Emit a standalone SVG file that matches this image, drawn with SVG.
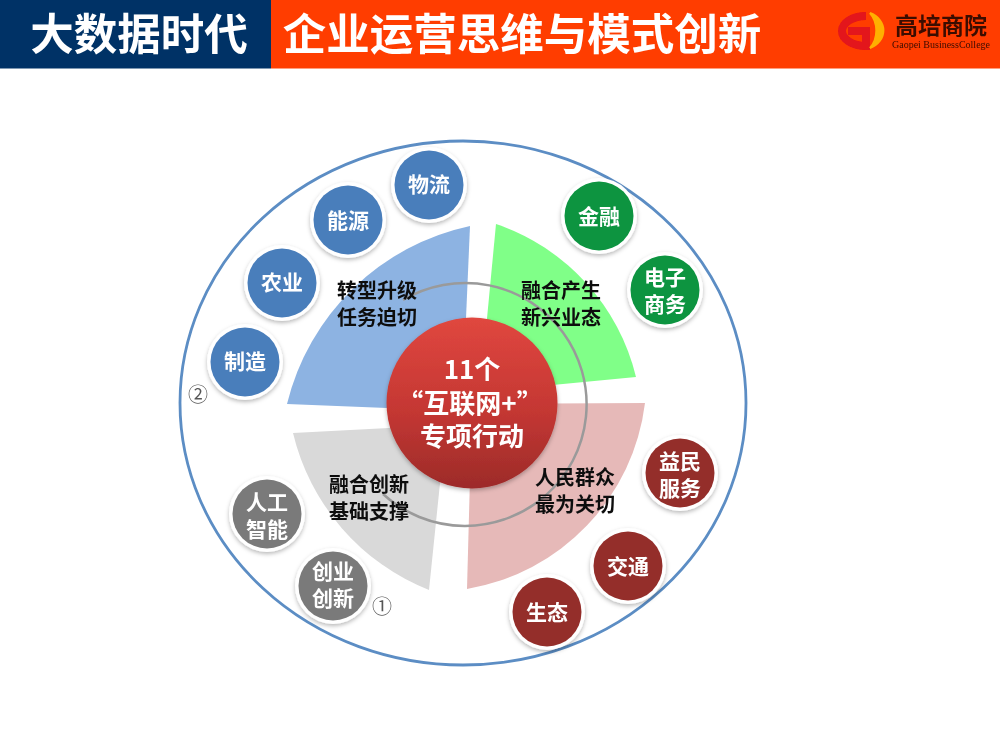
<svg xmlns="http://www.w3.org/2000/svg" width="1000" height="750" viewBox="0 0 1000 750">
<style>
text{font-family:"Noto Sans CJK SC","Noto Sans",sans-serif;font-weight:700;text-anchor:middle}
.h{font-size:43.5px;fill:#fff}
.n{font-size:21px;fill:#fff}
.s{font-size:20px;fill:#111}
.c{font-size:26px;fill:#fff}
.o{font-size:20px;fill:#555;font-weight:400}
.ring{fill:#fff;filter:url(#sh)}
.blue{fill:#4a7ebb}.green{fill:#0a9440}.red{fill:#942f2c}.grey{fill:#7a7a7a}
</style>
<defs>
<filter id="sh" x="-30%" y="-30%" width="160%" height="160%"><feDropShadow dx="0" dy="2" stdDeviation="2" flood-color="#000" flood-opacity=".28"/></filter>
<filter id="b" x="-5%" y="-5%" width="110%" height="110%"><feGaussianBlur stdDeviation="0.75"/></filter>
<linearGradient id="rg" x1="0" y1="0" x2="0" y2="1"><stop offset="0" stop-color="#e0473f"/><stop offset=".55" stop-color="#c43733"/><stop offset="1" stop-color="#9c2b29"/></linearGradient>
</defs>
<rect width="1000" height="750" fill="#fff"/>
<g filter="url(#b)">
<g id="header">
<rect x="-5" y="-5" width="276" height="73.500" fill="#003366"/>
<rect x="271" y="-5" width="735" height="73.500" fill="#ff3c00"/>
<text class="h" x="139" y="50">大数据时代</text>
<text class="h" x="522" y="50">企业运营思维与模式创新</text>
</g>
<g id="logo">
<path d="M866,16 A24,15 0 1 0 866,46 L866,31 L848,31" fill="none" stroke="#e3131b" stroke-width="8"/>
<path d="M870,13 A22,19 0 0 1 870,48 A20,24 0 0 0 870,13Z" fill="#ffb000" stroke="#ffb000" stroke-width="2"/>
<text x="941" y="34" style="font-size:23px" fill="#3a0e00">高培商院</text>
<text x="941" y="48" style="font-size:10px;font-family:'Liberation Serif',serif;font-weight:400" fill="#3a0e00">Gaopei BusinessCollege</text>
</g>
<g id="sectors">
<path d="M470,226 A240,240 0 0 0 287,404 L462,411 Z" fill="#8db3e2"/>
<path d="M496,224 A215,215 0 0 1 636,377 L480,392 Z" fill="#80ff88"/>
<path d="M645,403 A215,215 0 0 1 467,589 L472,404 Z" fill="#e6b9b8"/>
<path d="M293,433 A225,225 0 0 0 429,590 L446,425 Z" fill="#d9d9d9"/>
</g>
<g id="connectors" fill="none">
<ellipse cx="463" cy="403" rx="283" ry="262" stroke="#5b8dc4" stroke-width="2.800"/>
<path d="M403,300 A121.500,121.500 0 1 1 383,494" stroke="#9a9a9a" stroke-width="2.500"/>
</g>
<g id="center">
<circle cx="472" cy="403" r="85.500" fill="url(#rg)" filter="url(#sh)"/>
<text class="c" x="472" y="379">11个</text>
<text class="c" x="470" y="413">“互联网+”</text>
<text class="c" x="472" y="446">专项行动</text>
</g>
<g id="label-a"><text class="s" x="377" y="298">转型升级</text><text class="s" x="377" y="325">任务迫切</text></g>
<g id="label-b"><text class="s" x="561" y="298">融合产生</text><text class="s" x="561" y="325">新兴业态</text></g>
<g id="label-c"><text class="s" x="575" y="485">人民群众</text><text class="s" x="575" y="512">最为关切</text></g>
<g id="label-d"><text class="s" x="369" y="492">融合创新</text><text class="s" x="369" y="519">基础支撑</text></g>
<g id="n1"><circle class="ring" cx="429" cy="185" r="38"/><circle class="blue" cx="429" cy="185" r="34.500"/><text class="n" x="429" y="192">物流</text></g>
<g id="n2"><circle class="ring" cx="348" cy="220" r="38"/><circle class="blue" cx="348" cy="220" r="34.500"/><text class="n" x="348" y="228">能源</text></g>
<g id="n3"><circle class="ring" cx="282" cy="283" r="38"/><circle class="blue" cx="282" cy="283" r="34.500"/><text class="n" x="282" y="290">农业</text></g>
<g id="n4"><circle class="ring" cx="245" cy="362" r="38"/><circle class="blue" cx="245" cy="362" r="34.500"/><text class="n" x="245" y="369">制造</text></g>
<g id="n5"><circle class="ring" cx="599" cy="216" r="38"/><circle class="green" cx="599" cy="216" r="34.500"/><text class="n" x="599" y="224">金融</text></g>
<g id="n6"><circle class="ring" cx="665" cy="290" r="38"/><circle class="green" cx="665" cy="290" r="34.500"/><text class="n" x="665" y="285">电子</text><text class="n" x="665" y="312">商务</text></g>
<g id="n7"><circle class="ring" cx="680" cy="473" r="38"/><circle class="red" cx="680" cy="473" r="34.500"/><text class="n" x="680" y="469">益民</text><text class="n" x="680" y="496">服务</text></g>
<g id="n8"><circle class="ring" cx="628" cy="566" r="38"/><circle class="red" cx="628" cy="566" r="34.500"/><text class="n" x="628" y="574">交通</text></g>
<g id="n9"><circle class="ring" cx="547" cy="612" r="38"/><circle class="red" cx="547" cy="612" r="34.500"/><text class="n" x="547" y="620">生态</text></g>
<g id="n10"><circle class="ring" cx="267" cy="514" r="38"/><circle class="grey" cx="267" cy="514" r="34.500"/><text class="n" x="267" y="510">人工</text><text class="n" x="267" y="537">智能</text></g>
<g id="n11"><circle class="ring" cx="333" cy="586" r="38"/><circle class="grey" cx="333" cy="586" r="34.500"/><text class="n" x="333" y="579">创业</text><text class="n" x="333" y="606">创新</text></g>
<text class="o" x="198" y="402">②</text>
<text class="o" x="382" y="614">①</text>
</g>
</svg>
